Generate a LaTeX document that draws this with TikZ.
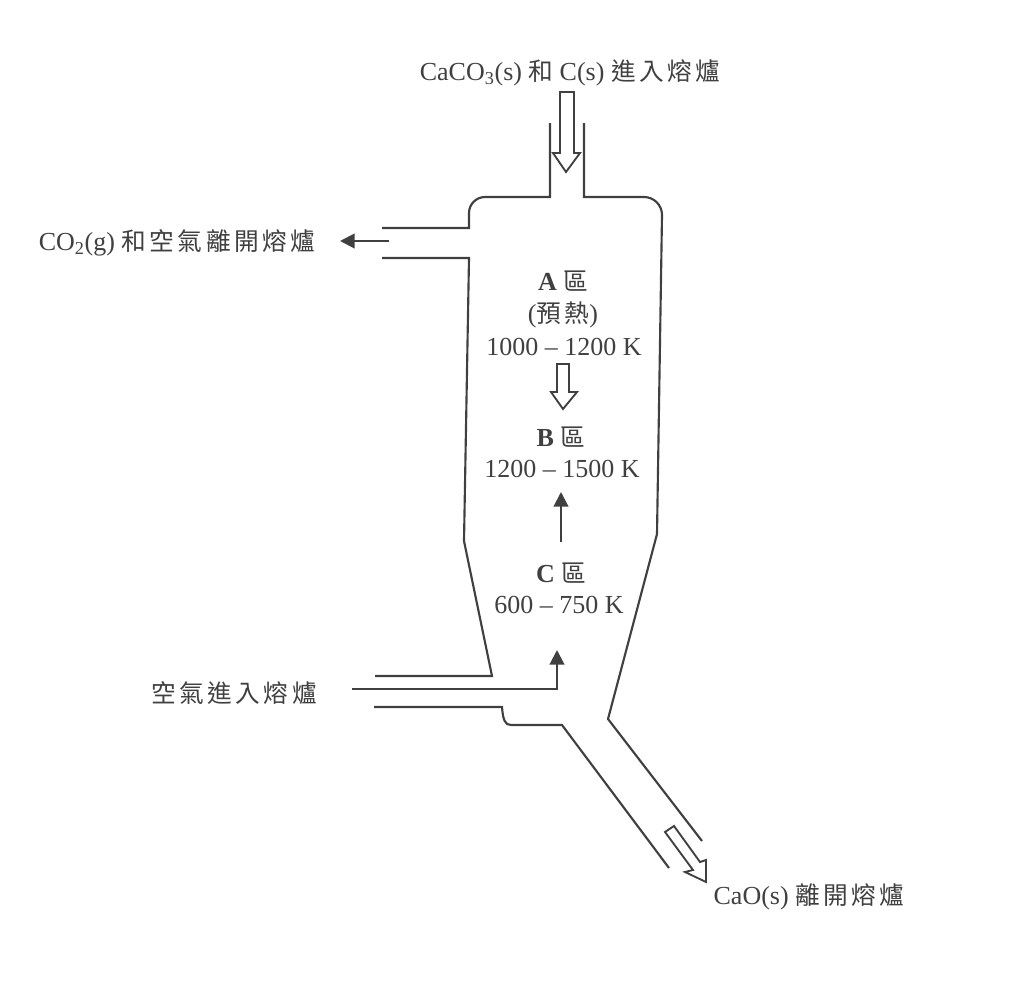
\documentclass[tikz,border=0pt]{standalone}
\usepackage{fontspec}
\setmainfont{Liberation Serif}
\newfontfamily\cjk[Scale=0.95,LetterSpace=14]{Noto Sans CJK TC}
\usetikzlibrary{arrows.meta}
\definecolor{ink}{gray}{0.25}
\tikzset{
  wall/.style={draw=ink, line width=1.6pt},
  flow/.style={draw=ink, line width=1.6pt, -{Triangle[length=11pt,width=11pt]}},
  hollow/.style={draw=ink, line width=1.4pt, fill=white, line join=miter},
  lbl/.style={text=ink, inner sep=0pt, font=\fontsize{19.5}{22}\selectfont}
}
\begin{document}
\begin{tikzpicture}[x=0.75pt, y=-0.75pt]
      \useasboundingbox (0,0) rectangle (1034,1006);
      % Furnace body, left side from the top pipe down to the air inlet
      \draw[wall] (550,123) -- (550,197) -- (485,197) arc (270:180:16) -- (469,228) -- (382,228);
      \draw[wall] (382,258) -- (469,258) -- (464,541) -- (492,676) -- (375,676);
      % Right side, down to the outlet
      \draw[wall] (584,123) -- (584,197) -- (644,197) arc (270:360:18) -- (657,534) -- (608,719) -- (702,841);
      % Lower edge of the air inlet and the outlet
      \draw[wall] (374,707) -- (502,707) .. controls (503,720) and (505,725) .. (511,725) -- (562,725) -- (669,868);
      % Labels
      \node[lbl] (topLabel) at (570,73) {CaCO\textsubscript{3}(s) {\cjk 和} C(s) {\cjk 進入熔爐}};
      \node[lbl] (gasLabel) at (177,243) {CO\textsubscript{2}(g) {\cjk 和空氣離開熔爐}};
      \node[lbl] (airLabel) at (234,693) {\cjk 空氣進入熔爐};
      \node[lbl] (limeLabel) at (809,897) {CaO(s) {\cjk 離開熔爐}};
      \node[lbl] (zoneA) at (563,281) {\textbf{A} {\cjk 區}};
      \node[lbl] (heatA) at (563,315) {({\cjk 預熱})};
      \node[lbl] (tempA) at (564,347) {1000 – 1200 K};
      \node[lbl] (zoneB) at (561,437) {\textbf{B} {\cjk 區}};
      \node[lbl] (tempB) at (562,469) {1200 – 1500 K};
      \node[lbl] (zoneC) at (561,573) {\textbf{C} {\cjk 區}};
      \node[lbl] (tempC) at (559,605) {600 – 750 K};
      % Solid arrows
      \coordinate (gasStart) at (389,241);
      \coordinate (gasEnd) at (340,241);
      \coordinate (airStart) at (352,689);
      \coordinate (airBend) at (557,689);
      \coordinate (airEnd) at (557,650);
      \coordinate (zoneStart) at (561,542);
      \coordinate (zoneEnd) at (561,492);
      \draw[flow] (gasStart) -- (gasEnd);
      \draw[flow] (airStart) -- (airBend) -- (airEnd);
      \draw[flow] (zoneStart) -- (zoneEnd);
      % Hollow arrows
      \draw[hollow] (560,92) -- (574,92) -- (574,153) -- (580,153) -- (566,172) -- (553,153) -- (560,153) -- cycle;
      \draw[hollow] (557,364) -- (569,364) -- (569,392) -- (577,392) -- (563,409) -- (551,392) -- (557,392) -- cycle;
      \draw[hollow] (665,832) -- (674,826) -- (700,862) -- (706,860) -- (706,882) -- (685,872) -- (693,870) -- cycle;
    \end{tikzpicture}
\end{document}
